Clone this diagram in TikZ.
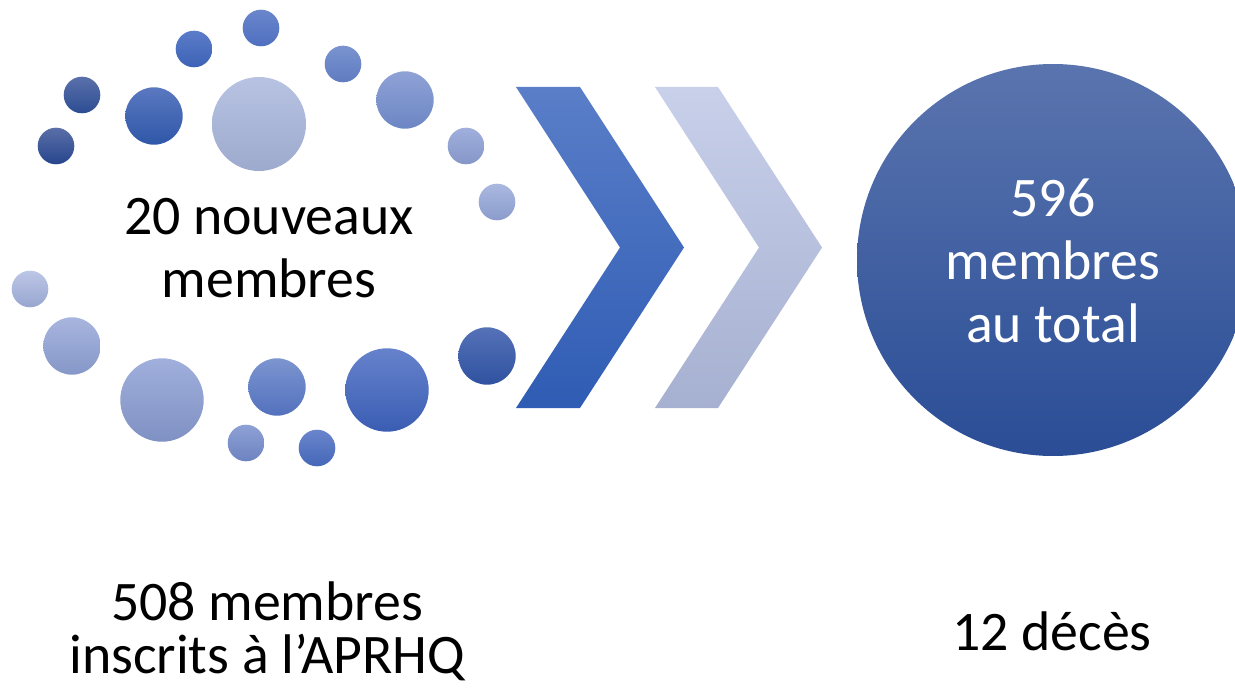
\documentclass[tikz,border=0pt]{standalone}
\usepackage{fontspec}
\setmainfont{Carlito}
\begin{document}
\begin{tikzpicture}[x=1pt,y=-1pt,
  dot/.style={circle,inner sep=0pt,draw=none,minimum size=#1},
  lbl/.style={inner sep=0pt,align=center,font=\fontsize{55.8}{63}\selectfont}]
\useasboundingbox[fill=white] (0,0) rectangle (1235,690);
% small circles
\node[dot=36.6pt,top color={rgb,255:red,106;green,134;blue,204},bottom color={rgb,255:red,79;green,111;blue,192}] (c1) at (261,28) {};
\node[dot=36.6pt,top color={rgb,255:red,91;green,124;blue,201},bottom color={rgb,255:red,61;green,98;blue,181}] (c2) at (194,49) {};
\node[dot=36.6pt,top color={rgb,255:red,122;green,147;blue,208},bottom color={rgb,255:red,95;green,124;blue,192}] (c3) at (343,64) {};
\node[dot=36.6pt,top color={rgb,255:red,90;green,112;blue,170},bottom color={rgb,255:red,44;green,77;blue,147}] (c4) at (82,95) {};
\node[dot=57.4pt,top color={rgb,255:red,90;green,120;blue,192},bottom color={rgb,255:red,47;green,87;blue,168}] (c5) at (154,116) {};
\node[dot=94pt,top color={rgb,255:red,184;green,195;blue,227},bottom color={rgb,255:red,157;green,170;blue,205}] (c6) at (259,124) {};
\node[dot=57.4pt,top color={rgb,255:red,143;green,162;blue,214},bottom color={rgb,255:red,108;green,134;blue,196}] (c7) at (405,100) {};
\node[dot=36.6pt,top color={rgb,255:red,90;green,111;blue,168},bottom color={rgb,255:red,39;green,69;blue,141}] (c8) at (56,146) {};
\node[dot=36.6pt,top color={rgb,255:red,160;green,175;blue,220},bottom color={rgb,255:red,133;green,150;blue,200}] (c9) at (466,146) {};
\node[dot=36.6pt,top color={rgb,255:red,170;green,184;blue,224},bottom color={rgb,255:red,139;green,156;blue,204}] (c10) at (497,202) {};
\node[dot=36.6pt,top color={rgb,255:red,188;green,198;blue,230},bottom color={rgb,255:red,152;green,166;blue,208}] (c11) at (30,289) {};
\node[dot=57.4pt,top color={rgb,255:red,168;green,181;blue,222},bottom color={rgb,255:red,133;green,151;blue,200}] (c12) at (72,346) {};
\node[dot=83.4pt,top color={rgb,255:red,160;green,175;blue,220},bottom color={rgb,255:red,127;green,145;blue,195}] (c13) at (162,400) {};
\node[dot=57.4pt,top color={rgb,255:red,124;green,149;blue,208},bottom color={rgb,255:red,83;green,113;blue,189}] (c14) at (277,387) {};
\node[dot=83.4pt,top color={rgb,255:red,102;green,130;blue,204},bottom color={rgb,255:red,58;green,93;blue,179}] (c15) at (387,390) {};
\node[dot=57.4pt,top color={rgb,255:red,85;green,113;blue,184},bottom color={rgb,255:red,47;green,82;blue,160}] (c16) at (487,356) {};
\node[dot=36.6pt,top color={rgb,255:red,142;green,161;blue,214},bottom color={rgb,255:red,109;green,131;blue,192}] (c17) at (246,443) {};
\node[dot=36.6pt,top color={rgb,255:red,106;green,133;blue,204},bottom color={rgb,255:red,69;green,103;blue,184}] (c18) at (317,448) {};
% chevrons
\shade[top color={rgb,255:red,90;green,126;blue,200},bottom color={rgb,255:red,47;green,92;blue,180}]
  (516,87) -- (580,87) -- (684,247.5) -- (580,408) -- (516,408) -- (620,247.5) -- cycle;
\shade[top color={rgb,255:red,200;green,208;blue,234},bottom color={rgb,255:red,166;green,176;blue,208}]
  (655,87) -- (718,87) -- (822,247.5) -- (718,408) -- (655,408) -- (759,247.5) -- cycle;
% big circle
\node[dot=392pt,top color={rgb,255:red,90;green,116;blue,174},bottom color={rgb,255:red,42;green,77;blue,150}] (big) at (1053,260) {};
% texts
\node[lbl,anchor=base] (t1) at (269,297) {20 nouveaux\\membres};
\node[lbl,anchor=base,text=white] (t2) at (1053,342) {596\\membres\\au total};
\node[lbl,anchor=base,font=\fontsize{55.8}{53}\selectfont] (t3) at (267,673) {508 membres\\inscrits à l’APRHQ};
\node[lbl,anchor=base] (t4) at (1052,650) {12 décès};
\end{tikzpicture}
\end{document}
